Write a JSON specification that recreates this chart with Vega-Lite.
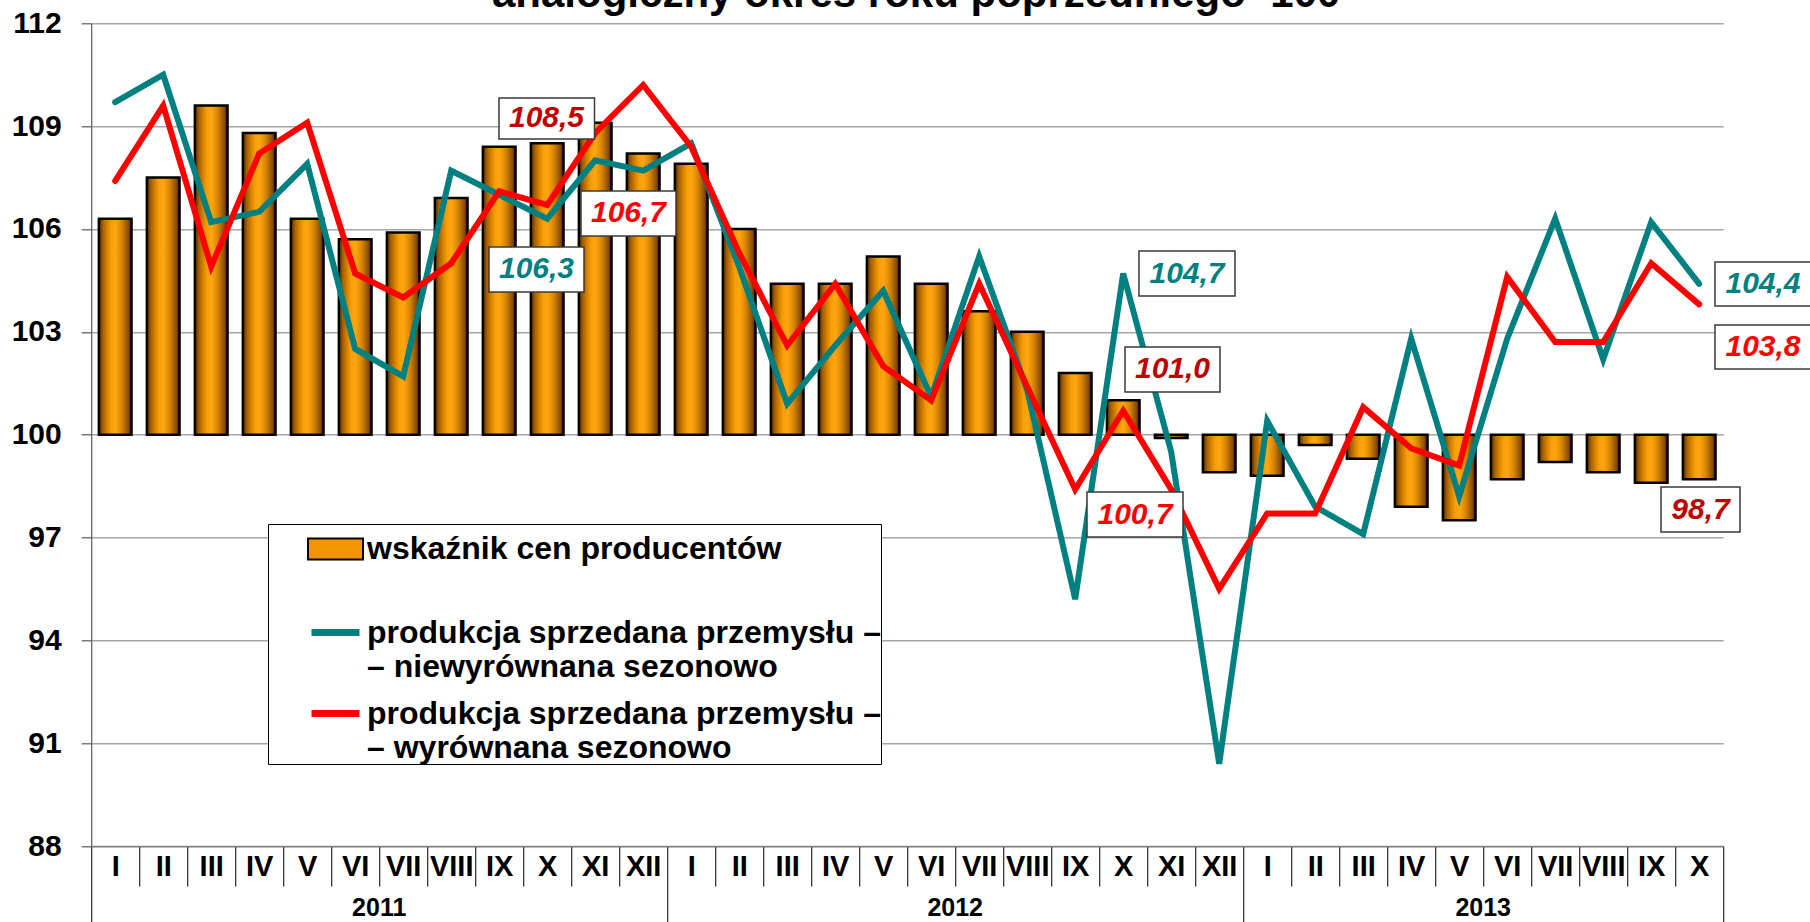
{
  "$schema": "https://vega.github.io/schema/vega-lite/v6.json",
  "autosize": {"type": "none"},
  "width": 1632,
  "height": 822.7,
  "padding": {"left": 91.2, "top": 23.3, "right": 86.8, "bottom": 76},
  "background": "white",
  "title": {
    "text": "analogiczny okres roku poprzedniego=100",
    "font": "Liberation Sans",
    "fontSize": 42,
    "fontWeight": "bold",
    "color": "black",
    "anchor": "middle",
    "frame": "group",
    "offset": -8,
    "dx": 9
  },
  "config": {
    "font": "Liberation Sans",
    "view": {"stroke": null},
    "locale": {"number": {"decimal": ",", "thousands": " ", "grouping": [3], "currency": ["", " zł"]}}
  },
  "data": {
    "values": [
      {"k": "2011-01 I", "yr": "2011", "ppi": 106.3, "nsa": 109.7, "sa": 107.4},
      {"k": "2011-02 II", "yr": "2011", "ppi": 107.5, "nsa": 110.5, "sa": 109.6},
      {"k": "2011-03 III", "yr": "2011", "ppi": 109.6, "nsa": 106.2, "sa": 104.9},
      {"k": "2011-04 IV", "yr": "2011", "ppi": 108.8, "nsa": 106.5, "sa": 108.2},
      {"k": "2011-05 V", "yr": "2011", "ppi": 106.3, "nsa": 107.9, "sa": 109.1},
      {"k": "2011-06 VI", "yr": "2011", "ppi": 105.7, "nsa": 102.5, "sa": 104.7},
      {"k": "2011-07 VII", "yr": "2011", "ppi": 105.9, "nsa": 101.7, "sa": 104.0},
      {"k": "2011-08 VIII", "yr": "2011", "ppi": 106.9, "nsa": 107.7, "sa": 105.0},
      {"k": "2011-09 IX", "yr": "2011", "ppi": 108.4, "nsa": 107.0, "sa": 107.1},
      {"k": "2011-10 X", "yr": "2011", "ppi": 108.5, "nsa": 106.3, "sa": 106.7},
      {"k": "2011-11 XI", "yr": "2011", "ppi": 109.1, "nsa": 108.0, "sa": 108.8},
      {"k": "2011-12 XII", "yr": "2011", "ppi": 108.2, "nsa": 107.7, "sa": 110.2},
      {"k": "2012-01 I", "yr": "2012", "ppi": 107.9, "nsa": 108.5, "sa": 108.4},
      {"k": "2012-02 II", "yr": "2012", "ppi": 106.0, "nsa": 104.9, "sa": 105.3},
      {"k": "2012-03 III", "yr": "2012", "ppi": 104.4, "nsa": 100.9, "sa": 102.6},
      {"k": "2012-04 IV", "yr": "2012", "ppi": 104.4, "nsa": 102.6, "sa": 104.4},
      {"k": "2012-05 V", "yr": "2012", "ppi": 105.2, "nsa": 104.2, "sa": 102.0},
      {"k": "2012-06 VI", "yr": "2012", "ppi": 104.4, "nsa": 101.1, "sa": 101.0},
      {"k": "2012-07 VII", "yr": "2012", "ppi": 103.6, "nsa": 105.2, "sa": 104.4},
      {"k": "2012-08 VIII", "yr": "2012", "ppi": 103.0, "nsa": 101.3, "sa": 101.4},
      {"k": "2012-09 IX", "yr": "2012", "ppi": 101.8, "nsa": 95.2, "sa": 98.4},
      {"k": "2012-10 X", "yr": "2012", "ppi": 101.0, "nsa": 104.7, "sa": 100.7},
      {"k": "2012-11 XI", "yr": "2012", "ppi": 99.9, "nsa": 99.5, "sa": 98.4},
      {"k": "2012-12 XII", "yr": "2012", "ppi": 98.9, "nsa": 90.4, "sa": 95.5},
      {"k": "2013-01 I", "yr": "2013", "ppi": 98.8, "nsa": 100.4, "sa": 97.7},
      {"k": "2013-02 II", "yr": "2013", "ppi": 99.7, "nsa": 97.9, "sa": 97.7},
      {"k": "2013-03 III", "yr": "2013", "ppi": 99.3, "nsa": 97.1, "sa": 100.8},
      {"k": "2013-04 IV", "yr": "2013", "ppi": 97.9, "nsa": 102.8, "sa": 99.6},
      {"k": "2013-05 V", "yr": "2013", "ppi": 97.5, "nsa": 98.2, "sa": 99.1},
      {"k": "2013-06 VI", "yr": "2013", "ppi": 98.7, "nsa": 102.8, "sa": 104.6},
      {"k": "2013-07 VII", "yr": "2013", "ppi": 99.2, "nsa": 106.3, "sa": 102.7},
      {"k": "2013-08 VIII", "yr": "2013", "ppi": 98.9, "nsa": 102.2, "sa": 102.7},
      {"k": "2013-09 IX", "yr": "2013", "ppi": 98.6, "nsa": 106.2, "sa": 105.0},
      {"k": "2013-10 X", "yr": "2013", "ppi": 98.7, "nsa": 104.4, "sa": 103.8}
    ]
  },
  "encoding": {
    "x": {
      "field": "k",
      "type": "nominal",
      "scale": {"type": "band", "paddingInner": 0, "paddingOuter": 0},
      "axis": {
        "title": null,
        "orient": "bottom",
        "grid": false,
        "domainColor": "#7f7f7f",
        "domainWidth": 1.5,
        "tickBand": "extent",
        "tickColor": "#262626",
        "tickWidth": 1.2,
        "tickSize": {"condition": {"test": "datum.extra || datum.value == '2011-12 XII' || datum.value == '2012-12 XII' || datum.value == '2013-10 X'", "value": 76}, "value": 40},
        "labelExpr": "split(datum.value, ' ')[1]",
        "labelFont": "Liberation Sans",
        "labelFontSize": 29,
        "labelFontWeight": "bold",
        "labelColor": "black",
        "labelAngle": 0,
        "labelOverlap": false,
        "labelBound": false,
        "labelFlush": false,
        "labelBaseline": "middle",
        "labelPadding": {"condition": {"test": "datum.value == '2011-12 XII' || datum.value == '2012-12 XII' || datum.value == '2013-10 X'", "value": -56}, "value": -20}
      }
    }
  },
  "layer": [
    {
      "mark": {
        "type": "bar",
        "width": {"band": 0.68},
        "fill": {
          "gradient": "linear", "x1": 0, "y1": 0, "x2": 1, "y2": 0,
          "stops": [
            {"offset": 0, "color": "#4d2a00"},
            {"offset": 0.12, "color": "#a55f00"},
            {"offset": 0.35, "color": "#f59b00"},
            {"offset": 0.5, "color": "#ffa812"},
            {"offset": 0.7, "color": "#d98500"},
            {"offset": 0.9, "color": "#8a4e00"},
            {"offset": 1, "color": "#3d2100"}
          ]
        },
        "stroke": "#000000",
        "strokeWidth": 2.5
      },
      "encoding": {
        "y": {
          "field": "ppi",
          "type": "quantitative",
          "scale": {"domain": [88, 112], "nice": false, "zero": false},
          "axis": {
            "title": null,
            "values": [88, 91, 94, 97, 100, 103, 106, 109, 112],
            "grid": true,
            "gridColor": "#a6a6a6",
            "gridWidth": 1.5,
            "domainColor": "#595959",
            "domainWidth": 1.2,
            "tickColor": "#595959",
            "tickSize": 10,
            "tickWidth": 1.2,
            "labelFont": "Liberation Sans",
            "labelFontSize": 30,
            "labelFontWeight": "bold",
            "labelColor": "black",
            "labelPadding": 20
          }
        },
        "y2": {"datum": 100}
      }
    },
    {
      "mark": {"type": "bar", "width": {"band": 0.68}, "opacity": 0, "stroke": "#000000", "strokeWidth": 2},
      "encoding": {
        "y": {"field": "ppi", "type": "quantitative", "scale": {"domain": [88, 112], "nice": false, "zero": false}},
        "y2": {"datum": 100},
        "fill": {
          "datum": "ppi",
          "scale": {"domain": ["ppi"], "range": ["#f29500"]},
          "legend": {
            "orient": "none",
            "legendX": 176.8,
            "legendY": 497.2,
            "zindex": 2,
            "title": null,
            "padding": 0,
            "symbolType": "M-1,-0.38H1V0.38H-1Z",
            "symbolSize": 3025,
            "symbolOpacity": 1,
            "symbolStrokeColor": "#000000",
            "symbolStrokeWidth": 2,
            "symbolOffset": 39,
            "labelOffset": 3,
            "labelFont": "Liberation Sans",
            "labelFontSize": 32,
            "labelFontWeight": "bold",
            "labelColor": "black",
            "labelLimit": 0,
            "labelExpr": "'wskaźnik cen producentów'"
          }
        }
      }
    },
    {
      "mark": {"type": "line", "strokeWidth": 6, "strokeCap": "round", "strokeJoin": "miter"},
      "encoding": {
        "y": {"field": "nsa", "type": "quantitative", "scale": {"domain": [88, 112], "nice": false, "zero": false}},
        "color": {
          "datum": "nsa",
          "scale": {"domain": ["nsa", "sa"], "range": ["#008080", "#ff0000"]},
          "legend": {
            "orient": "none",
            "legendX": 176.8,
            "legendY": 500.7,
            "zindex": 1,
            "title": " ",
            "titleFontSize": 31,
            "titlePadding": 50,
            "fillColor": "white",
            "strokeColor": "#000000",
            "padding": 0,
            "symbolType": "stroke",
            "symbolSize": 2304,
            "symbolStrokeWidth": 7,
            "symbolOffset": 40,
            "labelOffset": 4,
            "labelFont": "Liberation Sans",
            "labelFontSize": 32,
            "labelFontWeight": "bold",
            "labelColor": "black",
            "labelLimit": 0,
            "rowPadding": 3,
            "labelExpr": "datum.value == 'nsa' ? ['produkcja sprzedana przemysłu –\u00a0\u00a0\u00a0\u00a0', '– niewyrównana sezonowo'] : ['produkcja sprzedana przemysłu –\u00a0\u00a0\u00a0\u00a0', '– wyrównana sezonowo']",
            "encode": {
              "labels": {
                "dy": {"value": 19},
                "lineHeight": {"value": 38}
              }
            }
          }
        }
      }
    },
    {
      "mark": {"type": "line", "strokeWidth": 6, "strokeCap": "round", "strokeJoin": "miter"},
      "encoding": {
        "y": {"field": "sa", "type": "quantitative", "scale": {"domain": [88, 112], "nice": false, "zero": false}},
        "color": {"datum": "sa"}
      }
    },
    {
      "transform": [{"filter": "datum.k == '2011-10 X'"}],
      "mark": {"type": "point", "shape": "M-48.2,-45.3H47.3V-4.3H-48.2Z", "size": 4, "filled": true, "fill": "white", "stroke": "#3a3a3a", "strokeWidth": 1.5, "opacity": 1},
      "encoding": {"y": {"field": "ppi", "type": "quantitative"}}
    },
    {
      "transform": [{"filter": "datum.k == '2011-10 X'"}],
      "mark": {"type": "text", "dx": -0.7, "dy": -24.8, "fontSize": 30, "fontWeight": "bold", "fontStyle": "italic", "fill": "#c00000", "baseline": "middle", "align": "center"},
      "encoding": {"y": {"field": "ppi", "type": "quantitative"}, "text": {"field": "ppi", "type": "quantitative", "format": ".1f"}}
    },
    {
      "transform": [{"filter": "datum.k == '2011-10 X'"}],
      "mark": {"type": "point", "shape": "M-58.2,28.3H36.8V73.3H-58.2Z", "size": 4, "filled": true, "fill": "white", "stroke": "#3a3a3a", "strokeWidth": 1.5, "opacity": 1},
      "encoding": {"y": {"field": "nsa", "type": "quantitative"}}
    },
    {
      "transform": [{"filter": "datum.k == '2011-10 X'"}],
      "mark": {"type": "text", "dx": -10.7, "dy": 50.8, "fontSize": 30, "fontWeight": "bold", "fontStyle": "italic", "fill": "#008080", "baseline": "middle", "align": "center"},
      "encoding": {"y": {"field": "nsa", "type": "quantitative"}, "text": {"field": "nsa", "type": "quantitative", "format": ".1f"}}
    },
    {
      "transform": [{"filter": "datum.k == '2011-10 X'"}],
      "mark": {"type": "point", "shape": "M33.8,-14H128.8V31H33.8Z", "size": 4, "filled": true, "fill": "white", "stroke": "#3a3a3a", "strokeWidth": 1.5, "opacity": 1},
      "encoding": {"y": {"field": "sa", "type": "quantitative"}}
    },
    {
      "transform": [{"filter": "datum.k == '2011-10 X'"}],
      "mark": {"type": "text", "dx": 81.3, "dy": 8.5, "fontSize": 30, "fontWeight": "bold", "fontStyle": "italic", "fill": "#ff0000", "baseline": "middle", "align": "center"},
      "encoding": {"y": {"field": "sa", "type": "quantitative"}, "text": {"field": "sa", "type": "quantitative", "format": ".1f"}}
    },
    {
      "transform": [{"filter": "datum.k == '2012-10 X'"}],
      "mark": {"type": "point", "shape": "M15.8,-22.5H111.8V22.5H15.8Z", "size": 4, "filled": true, "fill": "white", "stroke": "#3a3a3a", "strokeWidth": 1.5, "opacity": 1},
      "encoding": {"y": {"field": "nsa", "type": "quantitative"}}
    },
    {
      "transform": [{"filter": "datum.k == '2012-10 X'"}],
      "mark": {"type": "text", "dx": 63.8, "dy": 0, "fontSize": 30, "fontWeight": "bold", "fontStyle": "italic", "fill": "#008080", "baseline": "middle", "align": "center"},
      "encoding": {"y": {"field": "nsa", "type": "quantitative"}, "text": {"field": "nsa", "type": "quantitative", "format": ".1f"}}
    },
    {
      "transform": [{"filter": "datum.k == '2012-10 X'"}],
      "mark": {"type": "point", "shape": "M1.8,-53.4H96.8V-8.4H1.8Z", "size": 4, "filled": true, "fill": "white", "stroke": "#3a3a3a", "strokeWidth": 1.5, "opacity": 1},
      "encoding": {"y": {"field": "ppi", "type": "quantitative"}}
    },
    {
      "transform": [{"filter": "datum.k == '2012-10 X'"}],
      "mark": {"type": "text", "dx": 49.3, "dy": -30.9, "fontSize": 30, "fontWeight": "bold", "fontStyle": "italic", "fill": "#c00000", "baseline": "middle", "align": "center"},
      "encoding": {"y": {"field": "ppi", "type": "quantitative"}, "text": {"field": "ppi", "type": "quantitative", "format": ".1f"}}
    },
    {
      "transform": [{"filter": "datum.k == '2012-10 X'"}],
      "mark": {"type": "point", "shape": "M-36.2,81.4H59.8V126.4H-36.2Z", "size": 4, "filled": true, "fill": "white", "stroke": "#3a3a3a", "strokeWidth": 1.5, "opacity": 1},
      "encoding": {"y": {"field": "sa", "type": "quantitative"}}
    },
    {
      "transform": [{"filter": "datum.k == '2012-10 X'"}],
      "mark": {"type": "text", "dx": 11.8, "dy": 103.9, "fontSize": 30, "fontWeight": "bold", "fontStyle": "italic", "fill": "#ff0000", "baseline": "middle", "align": "center"},
      "encoding": {"y": {"field": "sa", "type": "quantitative"}, "text": {"field": "sa", "type": "quantitative", "format": ".1f"}}
    },
    {
      "transform": [{"filter": "datum.k == '2013-10 X'"}],
      "mark": {"type": "point", "shape": "M15.8,-21.8H111.8V22.2H15.8Z", "size": 4, "filled": true, "fill": "white", "stroke": "#3a3a3a", "strokeWidth": 1.5, "opacity": 1},
      "encoding": {"y": {"field": "nsa", "type": "quantitative"}}
    },
    {
      "transform": [{"filter": "datum.k == '2013-10 X'"}],
      "mark": {"type": "text", "dx": 63.8, "dy": 0.2, "fontSize": 30, "fontWeight": "bold", "fontStyle": "italic", "fill": "#008080", "baseline": "middle", "align": "center"},
      "encoding": {"y": {"field": "nsa", "type": "quantitative"}, "text": {"field": "nsa", "type": "quantitative", "format": ".1f"}}
    },
    {
      "transform": [{"filter": "datum.k == '2013-10 X'"}],
      "mark": {"type": "point", "shape": "M15.8,20.6H111.8V64.6H15.8Z", "size": 4, "filled": true, "fill": "white", "stroke": "#3a3a3a", "strokeWidth": 1.5, "opacity": 1},
      "encoding": {"y": {"field": "sa", "type": "quantitative"}}
    },
    {
      "transform": [{"filter": "datum.k == '2013-10 X'"}],
      "mark": {"type": "text", "dx": 63.8, "dy": 42.6, "fontSize": 30, "fontWeight": "bold", "fontStyle": "italic", "fill": "#ff0000", "baseline": "middle", "align": "center"},
      "encoding": {"y": {"field": "sa", "type": "quantitative"}, "text": {"field": "sa", "type": "quantitative", "format": ".1f"}}
    },
    {
      "transform": [{"filter": "datum.k == '2013-10 X'"}],
      "mark": {"type": "point", "shape": "M-38.2,7.8H40.8V52.8H-38.2Z", "size": 4, "filled": true, "fill": "white", "stroke": "#3a3a3a", "strokeWidth": 1.5, "opacity": 1},
      "encoding": {"y": {"field": "ppi", "type": "quantitative"}}
    },
    {
      "transform": [{"filter": "datum.k == '2013-10 X'"}],
      "mark": {"type": "text", "dx": 1.3, "dy": 30.3, "fontSize": 30, "fontWeight": "bold", "fontStyle": "italic", "fill": "#c00000", "baseline": "middle", "align": "center"},
      "encoding": {"y": {"field": "ppi", "type": "quantitative"}, "text": {"field": "ppi", "type": "quantitative", "format": ".1f"}}
    },
    {
      "transform": [{"filter": "datum.k == '2011-06 VI' || datum.k == '2012-06 VI' || datum.k == '2013-05 V'"}],
      "mark": {"type": "text", "dy": 62, "fontSize": 25, "fontWeight": "bold", "fill": "black", "baseline": "middle", "align": "center"},
      "encoding": {
        "x": {"field": "k", "type": "nominal", "bandPosition": 1},
        "y": {"datum": 88},
        "text": {"field": "yr", "type": "nominal"}
      }
    }
  ]
}
